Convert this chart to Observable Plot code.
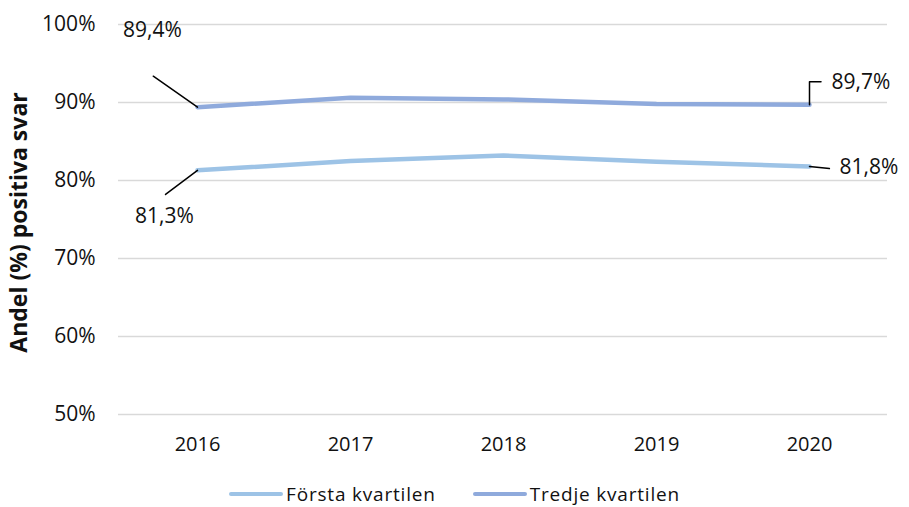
<!DOCTYPE html>
<html>
<head>
<meta charset="utf-8">
<script src="https://cdn.jsdelivr.net/npm/d3@7"></script>
<script src="https://cdn.jsdelivr.net/npm/@observablehq/plot@0.6"></script>
<style>
  html, body { margin: 0; padding: 0; background: #fff; }
  #chart { width: 909px; height: 507px; position: relative; font-family: "Open Sans", sans-serif; overflow: hidden; }
  #legend { position: absolute; left: 0; top: 481px; width: 909px; display: flex; justify-content: center; align-items: center; font-size: 19px; letter-spacing: 0.8px; color: #111; }
  .item { display: flex; align-items: center; }
  .item + .item { margin-left: 37px; }
  .sw { width: 54px; height: 4px; border-radius: 2px; margin-right: 3px; }
</style>
</head>
<body>
<div id="chart"></div>
<script>
const years = ["2016", "2017", "2018", "2019", "2020"];
const forstaKvartilen = [81.3, 82.5, 83.2, 82.4, 81.8];
const tredjeKvartilen = [89.4, 90.6, 90.4, 89.8, 89.7];
const seriesNames = ["Första kvartilen", "Tredje kvartilen"];
const seriesColors = ["#9dc3e6", "#8faadc"];
const yTicks = [50, 60, 70, 80, 90, 100];
const yTitle = "Andel (%) positiva svar";

const rows = [];
years.forEach((yr, i) => {
  rows.push({year: yr, value: forstaKvartilen[i], series: seriesNames[0]});
  rows.push({year: yr, value: tredjeKvartilen[i], series: seriesNames[1]});
});
const fmt = v => v.toFixed(1).replace(".", ",") + "%";
const first = years[0], last = years[years.length - 1];
const pick = (s, y) => rows.filter(d => d.series === s && d.year === y);

const line = {draw(ctx, l) { ctx.moveTo(0, 0); ctx.lineTo(0, -l); }};
const elbow = {draw(ctx, l) { ctx.moveTo(0, 0); ctx.lineTo(0, -l); ctx.lineTo(l * 0.5, -l); }};

const textStyle = {x: "year", y: "value", text: d => fmt(d.value), fontSize: 21, fill: "#111"};

const plot = Plot.plot({
  width: 909,
  height: 470,
  marginLeft: 118,
  marginRight: 22,
  marginTop: 24,
  marginBottom: 56,
  style: {fontFamily: "Open Sans, sans-serif", fontSize: "20px", color: "#111", background: "#fff"},
  x: {type: "point", domain: years, padding: 0.5, label: null},
  y: {domain: [50, 100], label: null},
  marks: [
    Plot.gridY(yTicks, {stroke: "#d9d9d9", strokeOpacity: 1, strokeWidth: 1.5}),
    Plot.axisY(yTicks, {tickSize: 0, tickPadding: 23, tickFormat: d => d + "%", fontSize: 21, label: null}),
    Plot.axisX({tickSize: 0, tickPadding: 22, fontSize: 20, label: null}),
    Plot.text([yTitle], {frameAnchor: "left", textAnchor: "middle", lineAnchor: "middle", dx: -99, dy: 3, rotate: -90, fontSize: 23, fontWeight: "bold", fill: "#111"}),
    Plot.line(rows, {x: "year", y: "value", z: "series", stroke: "series", strokeWidth: 4.5, strokeLinejoin: "round", strokeLinecap: "round"}),
    // leader lines
    Plot.vector(pick(seriesNames[1], first), {x: "year", y: "value", anchor: "start", rotate: -55, length: 54, shape: line, stroke: "#000", strokeWidth: 1.5}),
    Plot.vector(pick(seriesNames[0], first), {x: "year", y: "value", anchor: "start", rotate: -127, length: 40, shape: line, stroke: "#000", strokeWidth: 1.5}),
    Plot.vector(pick(seriesNames[1], last), {x: "year", y: "value", anchor: "start", rotate: 0, length: 23, shape: elbow, stroke: "#000", strokeWidth: 1.5}),
    Plot.vector(pick(seriesNames[0], last), {x: "year", y: "value", anchor: "start", rotate: 96, length: 20, shape: line, stroke: "#000", strokeWidth: 1.5}),
    // labels
    Plot.text(pick(seriesNames[1], first), {...textStyle, dx: -45, dy: -77}),
    Plot.text(pick(seriesNames[0], first), {...textStyle, dx: -33, dy: 46}),
    Plot.text(pick(seriesNames[1], last), {...textStyle, textAnchor: "start", dx: 22, dy: -23}),
    Plot.text(pick(seriesNames[0], last), {...textStyle, textAnchor: "start", dx: 30, dy: 1})
  ],
  color: {domain: seriesNames, range: seriesColors}
});

const chart = document.getElementById("chart");
chart.appendChild(plot);
const legend = document.createElement("div");
legend.id = "legend";
seriesNames.forEach((name, i) => {
  const item = document.createElement("div");
  item.className = "item";
  const sw = document.createElement("span");
  sw.className = "sw";
  sw.style.background = seriesColors[i];
  const label = document.createElement("span");
  label.textContent = name;
  item.appendChild(sw);
  item.appendChild(label);
  legend.appendChild(item);
});
chart.appendChild(legend);
</script>
</body>
</html>
